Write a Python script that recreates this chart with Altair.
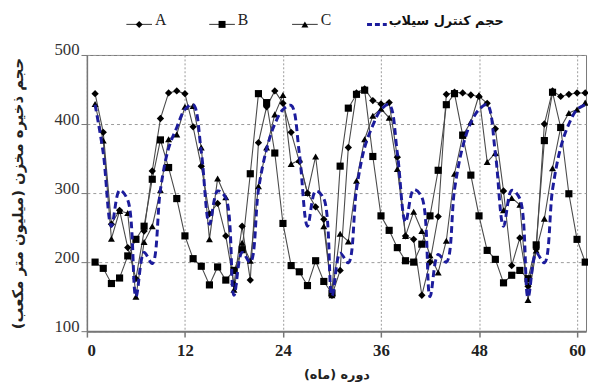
import altair as alt
import pandas as pd

months = list(range(1, 62))

series_a = [444, 388, 255, 275, 221, 176, 245, 332, 408, 445, 448, 444,
            396, 339, 270, 285, 238, 168, 252, 174, 373, 425, 448, 430,
            388, 346, 300, 280, 262, 152, 188, 366, 445, 451, 434, 429,
            431, 352, 238, 233, 152, 200, 266, 443, 446, 445, 442, 440,
            430, 393, 303, 195, 235, 165, 219, 400, 448, 440, 443, 445, 445]

series_b = [200, 191, 169, 177, 209, 233, 252, 320, 377, 337, 292, 238,
            205, 194, 167, 193, 174, 188, 218, 328, 444, 431, 358, 256,
            195, 186, 166, 202, 172, 155, 339, 423, 443, 449, 353, 267,
            246, 221, 202, 200, 226, 267, 333, 428, 444, 384, 326, 267,
            217, 204, 170, 181, 188, 176, 225, 376, 446, 395, 299, 233, 200]

series_c = [429, 376, 234, 274, 271, 150, 229, 252, 304, 378, 385, 425,
            426, 366, 233, 321, 294, 160, 228, 202, 310, 366, 414, 442,
            342, 348, 300, 353, 252, 152, 241, 230, 318, 378, 412, 422,
            409, 335, 238, 273, 245, 210, 185, 231, 328, 383, 403, 442,
            345, 358, 275, 293, 283, 145, 217, 263, 336, 395, 416, 421, 431]

flood = [428, 358, 252, 304, 290, 150, 214, 198, 305, 365, 395, 421,
         428, 360, 255, 303, 293, 152, 214, 200, 305, 364, 400, 421,
         427, 358, 252, 303, 292, 151, 213, 199, 305, 366, 398, 421,
         428, 358, 258, 305, 294, 150, 211, 200, 305, 367, 402, 421,
         428, 358, 252, 304, 292, 149, 213, 199, 305, 366, 400, 421, 428]

series_names = ["A", "B", "C"]
flood_name = "حجم کنترل سیلاب"
x_title = "دوره (ماه)"
y_title = "حجم ذخیره مخزن (میلیون متر مکعب)"
x_ticks = [0, 12, 24, 36, 48, 60]
y_ticks = [100, 200, 300, 400, 500]

rows = []
for name, vals in zip(series_names, (series_a, series_b, series_c)):
    for m, v in zip(months, vals):
        rows.append({"month": m, "value": v, "series": name})
df = pd.DataFrame(rows)
flood_df = pd.DataFrame({"month": months, "value": flood})

W, H = 506, 280
xs = alt.Scale(domain=[0, 61.1], nice=False, zero=False)
ys = alt.Scale(domain=[100, 500], nice=False, zero=False)

x_enc = alt.X("month:Q", scale=xs, axis=alt.Axis(
    values=x_ticks, title=x_title, grid=True, gridColor="#9a9a9a", gridDash=[2, 2],
    domainColor="#777777", domainWidth=2, tickColor="#777777", tickSize=6, tickWidth=1.5,
    labelFont="Liberation Serif", labelFontSize=17, labelFontWeight="bold", labelColor="#222222",
    labelPadding=6, titleFont="DejaVu Sans", titleFontSize=13, titleFontWeight="bold",
    titleColor="#222222", titleY=44, titleBaseline="middle"))
y_enc = alt.Y("value:Q", scale=ys, axis=alt.Axis(
    values=y_ticks, title=y_title, grid=True, gridColor="#9a9a9a", gridDash=[3, 3],
    domainColor="#777777", domainWidth=1.5, tickColor="#777777", tickSize=6,
    labelFont="Liberation Serif", labelFontSize=17, labelColor="#333333", labelPadding=2,
    labelOffset=-5, titleFont="DejaVu Sans", titleFontSize=15, titleFontWeight="bold",
    titleColor="#222222", titleX=-70, titleY=H / 2, titleAngle=270, titleBaseline="middle"))

base = alt.Chart(df)
lines = base.mark_line(color="#4a4a4a", strokeWidth=1.1).encode(
    x=x_enc, y=y_enc, detail="series:N")
points = base.mark_point(filled=True, color="black", opacity=1).encode(
    x=x_enc, y=y_enc,
    shape=alt.Shape("series:N", scale=alt.Scale(domain=series_names,
                    range=["diamond", "square", "triangle-up"]), legend=None),
    size=alt.Size("series:N", scale=alt.Scale(domain=series_names, range=[55, 50, 55]),
                  legend=None))
flood_line = alt.Chart(flood_df).mark_line(
    color="#1c1c9c", strokeWidth=3, strokeDash=[7, 4], interpolate="catmull-rom").encode(
    x=alt.X("month:Q", scale=xs), y=alt.Y("value:Q", scale=ys))

# manual legend above the plot (pixel positions relative to plot area)
one = pd.DataFrame({"k": [0]})
leg_layers = []
ly = -31
items = [("A", 40, "diamond"), ("B", 124, "square"), ("C", 208, "triangle-up")]
for lab, x0, shp in items:
    leg_layers.append(alt.Chart(one).mark_rule(color="#444444", strokeWidth=1.1).encode(
        x=alt.value(x0), x2=alt.value(x0 + 26), y=alt.value(ly)))
    leg_layers.append(alt.Chart(one).mark_point(filled=True, color="black", opacity=1,
                                                shape=shp, size=50).encode(
        x=alt.value(x0 + 13), y=alt.value(ly)))
    leg_layers.append(alt.Chart(one).mark_text(
        text=lab, font="Liberation Serif", fontSize=16, align="left", baseline="alphabetic",
        color="#222222").encode(x=alt.value(x0 + 29), y=alt.value(ly + 1)))
leg_layers.append(alt.Chart(one).mark_rule(color="#1c1c9c", strokeWidth=3,
                                           strokeDash=[5, 3]).encode(
    x=alt.value(284), x2=alt.value(304), y=alt.value(ly)))
leg_layers.append(alt.Chart(one).mark_text(
    text=flood_name, font="DejaVu Sans", fontSize=13, fontWeight="bold", align="left",
    baseline="middle", color="#111111").encode(x=alt.value(306), y=alt.value(ly - 3)))

chart = alt.layer(lines, points, flood_line, *leg_layers).properties(
    width=W, height=H,
    autosize=alt.AutoSizeParams(type="none"),
    padding={"left": 80, "top": 45, "right": 2, "bottom": 56},
    background="white",
).configure_view(stroke="#777777", strokeWidth=1)

chart.save("out.html", embed_options={"renderer": "svg", "actions": False})
